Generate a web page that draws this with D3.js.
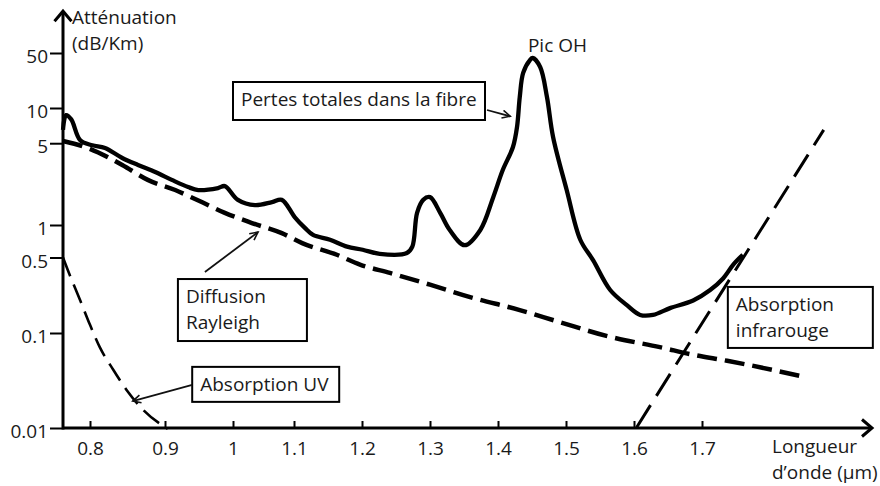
<!DOCTYPE html>
<html>
<head>
<meta charset="utf-8">
<script src="https://cdn.jsdelivr.net/npm/d3@7"></script>
<style>
    body { margin: 0; background: #fff; }
    text { font-family: "Open Sans", sans-serif; font-size: 19px; fill: #1a1a1a; }
</style>
</head>
<body>
<div id="graph"></div>
<script>
// tick labels
const xTicks = [0.8, 0.9, 1, 1.1, 1.2, 1.3, 1.4, 1.5, 1.6, 1.7];
const yTicks = [0.01, 0.1, 0.5, 1, 5, 10, 50];

// [wavelength in µm, attenuation in dB/Km]
const totalLoss = [
    [0.764, 6.5], [0.768, 8.7], [0.775, 8.0], [0.787, 5.3], [0.803, 4.8], [0.82, 4.55],
    [0.843, 3.74], [0.864, 3.26], [0.887, 2.84], [0.91, 2.43], [0.934, 2.11], [0.949, 1.99],
    [0.978, 2.07], [0.988, 2.15], [1.008, 1.64], [1.036, 1.48], [1.064, 1.57], [1.08, 1.64],
    [1.101, 1.17], [1.116, 0.94], [1.128, 0.81], [1.153, 0.73], [1.178, 0.63], [1.201, 0.59],
    [1.226, 0.54], [1.266, 0.55], [1.274, 0.63], [1.281, 1.27], [1.29, 1.64], [1.3, 1.73],
    [1.315, 1.27], [1.329, 0.9], [1.351, 0.65], [1.374, 0.9], [1.393, 1.73], [1.407, 2.95],
    [1.422, 4.64], [1.428, 6.9], [1.432, 13.8], [1.437, 27.9], [1.447, 40.7], [1.451, 43.2],
    [1.462, 33.2], [1.472, 13.8], [1.481, 5.65], [1.501, 1.99], [1.521, 0.73], [1.54, 0.47],
    [1.565, 0.25], [1.59, 0.18], [1.609, 0.147], [1.628, 0.147], [1.653, 0.17], [1.687, 0.2],
    [1.712, 0.25], [1.731, 0.32], [1.746, 0.43], [1.76, 0.53]
];
const rayleigh = [
    [0.764, 5.22], [0.797, 4.55], [0.843, 3.26], [0.877, 2.43], [0.915, 1.99], [0.954, 1.57],
    [0.988, 1.27], [1.031, 1.04], [1.08, 0.84], [1.112, 0.68], [1.163, 0.53], [1.197, 0.43],
    [1.241, 0.36], [1.3, 0.28], [1.359, 0.215], [1.432, 0.163], [1.491, 0.126], [1.565, 0.091],
    [1.638, 0.071], [1.687, 0.059], [1.737, 0.051], [1.81, 0.04], [1.854, 0.034]
];
const uvAbsorption = [
    [0.764, 0.5], [0.773, 0.344], [0.787, 0.2], [0.8, 0.119], [0.813, 0.071],
    [0.831, 0.041], [0.849, 0.025], [0.871, 0.0155], [0.904, 0.0098]
];
const irAbsorption = [
    [1.604, 0.0102], [1.691, 0.1], [1.791, 1.0], [1.879, 6.5]
];

// annotations: box anchored at its top-left corner in data units, arrow tip in data units
const notes = [
    { lines: ["Pertes totales dans la fibre"], at: [1.0, 21.4], w: 252, h: 38, start: [254, 28], tip: [1.418, 8.5] },
    { lines: ["Diffusion", "Rayleigh"], at: [0.919, 0.316], w: 129, h: 62, start: [27, -7], tip: [1.041, 0.86] },
    { lines: ["Absorption UV"], at: [0.94, 0.044], w: 147, h: 35, start: [0, 18], tip: [0.857, 0.0192] },
    { lines: ["Absorption", "infrarouge"], at: [1.738, 0.267], w: 145, h: 61 }
];

const width = 880, height = 486;
const xStart = 0.764, xEnd = 1.95, yStart = 0.01, yEnd = 170;

const svg = d3.select("#graph")
    .append("svg")
    .attr("width", width)
    .attr("height", height);

// the hand drawn axes are not evenly spaced, so both scales are piecewise
const x = d3.scaleLinear()
    .domain(xTicks)
    .range([90, 165, 233, 294, 362, 430, 498, 566, 634, 702]);

const y = d3.scaleLog()
    .domain([0.01, 0.1, 1, 10, 50])
    .range([428, 333, 225, 108, 53]);

const defs = svg.append("defs");
defs.append("marker")
    .attr("id", "head")
    .attr("markerUnits", "userSpaceOnUse")
    .attr("markerWidth", 12).attr("markerHeight", 12)
    .attr("refX", 9).attr("refY", 5)
    .attr("orient", "auto")
    .append("path")
    .attr("d", "M1,1 L9,5 L1,9")
    .attr("fill", "none")
    .attr("stroke", "#111")
    .attr("stroke-width", 1.6);
defs.append("marker")
    .attr("id", "axisHead")
    .attr("markerUnits", "userSpaceOnUse")
    .attr("markerWidth", 20).attr("markerHeight", 20)
    .attr("refX", 12).attr("refY", 10)
    .attr("orient", "auto")
    .append("path")
    .attr("d", "M2,1.5 L12,10 L2,18.5")
    .attr("fill", "none")
    .attr("stroke", "#000")
    .attr("stroke-width", 3);

// axes
const xAxisCall = d3.axisBottom(x)
    .tickValues(xTicks)
    .tickFormat(d3.format("~g"))
    .tickSize(-7)
    .tickSizeOuter(0)
    .tickPadding(14);
svg.append("g")
    .attr("transform", `translate(0, ${y(yStart)})`)
    .call(xAxisCall)
    .call(g => g.select(".domain").remove())
    .call(g => g.selectAll(".tick line").attr("stroke", "#000").attr("stroke-width", 2))
    .call(g => g.selectAll(".tick text").attr("font-size", null).attr("font-family", null));

const yAxisCall = d3.axisLeft(y)
    .tickValues(yTicks)
    .tickFormat(d => String(d))
    .tickSize(13)
    .tickSizeOuter(0)
    .tickPadding(2);
svg.append("g")
    .attr("transform", `translate(${x(xStart)}, 0)`)
    .call(yAxisCall)
    .call(g => g.select(".domain").remove())
    .call(g => g.selectAll(".tick line").attr("stroke", "#000").attr("stroke-width", 2))
    .call(g => g.selectAll(".tick text").attr("font-size", null).attr("font-family", null).attr("dy", "0.5em"));

svg.append("line")
    .attr("x1", x(xStart)).attr("y1", y(yStart))
    .attr("x2", x(xEnd)).attr("y2", y(yStart))
    .attr("stroke", "#000").attr("stroke-width", 3)
    .attr("marker-end", "url(#axisHead)");
svg.append("line")
    .attr("x1", x(xStart)).attr("y1", y(yStart) + 1.5)
    .attr("x2", x(xStart)).attr("y2", y(yEnd))
    .attr("stroke", "#000").attr("stroke-width", 3)
    .attr("marker-end", "url(#axisHead)");

// axis titles
svg.append("text").attr("x", x(xStart) + 9).attr("y", 24).text("Atténuation");
svg.append("text").attr("x", x(xStart) + 9).attr("y", 50).text("(dB/Km)");
svg.append("text").attr("x", x(1.7) + 70).attr("y", 453).text("Longueur");
svg.append("text").attr("x", x(1.7) + 70).attr("y", 479).text("d’onde (µm)");

// curves
const line = d3.line()
    .x(d => x(d[0]))
    .y(d => y(d[1]));

svg.append("path")
    .datum(uvAbsorption)
    .attr("fill", "none")
    .attr("stroke", "#000")
    .attr("stroke-width", 2.6)
    .attr("stroke-dasharray", "20,9")
    .attr("d", line.curve(d3.curveMonotoneX));

svg.append("path")
    .datum(irAbsorption)
    .attr("fill", "none")
    .attr("stroke", "#000")
    .attr("stroke-width", 3)
    .attr("stroke-dasharray", "26,11")
    .attr("d", line.curve(d3.curveLinear));

svg.append("path")
    .datum(rayleigh)
    .attr("fill", "none")
    .attr("stroke", "#000")
    .attr("stroke-width", 4.5)
    .attr("stroke-dasharray", "20,8")
    .attr("d", line.curve(d3.curveMonotoneX));

svg.append("path")
    .datum(totalLoss)
    .attr("fill", "none")
    .attr("stroke", "#000")
    .attr("stroke-width", 4.3)
    .attr("stroke-linejoin", "round")
    .attr("d", line.curve(d3.curveCatmullRom.alpha(0.5)));

svg.append("text")
    .attr("x", x(1.444))
    .attr("y", y(51))
    .text("Pic OH");

// annotation boxes and arrows
notes.forEach(n => {
    const bx = x(n.at[0]), by = y(n.at[1]);
    const g = svg.append("g").attr("transform", `translate(${bx}, ${by})`);
    g.append("rect")
        .attr("width", n.w).attr("height", n.h)
        .attr("fill", "#fff")
        .attr("stroke", "#000")
        .attr("stroke-width", 2);
    n.lines.forEach((t, i) => {
        g.append("text").attr("x", 8).attr("y", 24 + i * 26).text(t);
    });
    if (n.tip) {
        svg.append("line")
            .attr("x1", bx + n.start[0]).attr("y1", by + n.start[1])
            .attr("x2", x(n.tip[0])).attr("y2", y(n.tip[1]))
            .attr("stroke", "#111")
            .attr("stroke-width", 1.8)
            .attr("marker-end", "url(#head)");
    }
});
</script>
</body>
</html>
